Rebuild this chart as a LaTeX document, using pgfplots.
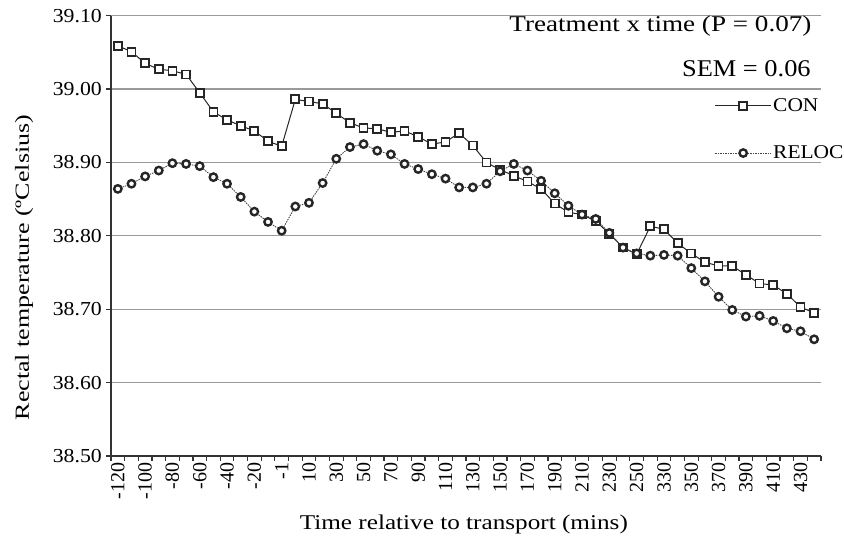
\documentclass[border=0pt]{standalone}
\usepackage{fontspec}
\setmainfont{Liberation Serif}[FakeStretch=1.1]
\newfontfamily\fA{Liberation Serif}[FakeStretch=1.2]
\newfontfamily\fB{Liberation Serif}[FakeStretch=1.3]
\newfontfamily\fN{Liberation Serif}
\usepackage{pgfplots}
\usepackage{pgfplotstable}
\pgfplotsset{compat=1.18}
\definecolor{mk}{HTML}{262626}
\definecolor{gridc}{HTML}{9A9A9A}
\definecolor{axc}{HTML}{333333}

\pgfplotstableread{
i con reloc
0 39.059 38.864
1 39.051 38.871
2 39.035 38.881
3 39.027 38.889
4 39.025 38.899
5 39.020 38.898
6 38.995 38.895
7 38.969 38.880
8 38.958 38.871
9 38.950 38.853
10 38.943 38.833
11 38.929 38.819
12 38.922 38.807
13 38.986 38.840
14 38.983 38.845
15 38.980 38.872
16 38.967 38.905
17 38.954 38.921
18 38.947 38.925
19 38.946 38.916
20 38.941 38.911
21 38.943 38.898
22 38.935 38.891
23 38.925 38.884
24 38.928 38.878
25 38.940 38.866
26 38.923 38.866
27 38.900 38.871
28 38.890 38.888
29 38.882 38.898
30 38.874 38.889
31 38.864 38.875
32 38.844 38.858
33 38.832 38.841
34 38.829 38.829
35 38.820 38.823
36 38.803 38.804
37 38.784 38.784
38 38.775 38.776
39 38.813 38.773
40 38.809 38.774
41 38.790 38.773
42 38.776 38.756
43 38.764 38.738
44 38.759 38.717
45 38.759 38.699
46 38.747 38.690
47 38.735 38.691
48 38.733 38.684
49 38.721 38.674
50 38.703 38.670
51 38.695 38.659
}\datatable

\begin{document}
\begin{tikzpicture}
\begin{axis}[name=ax, at={(0,0)}, anchor=south west,
  width=710pt, height=440.3pt, scale only axis,
  xmin=-0.5, xmax=51.5, ymin=38.5, ymax=39.1,
  clip=false,
  axis x line*=bottom, axis y line*=left,
  axis line style={draw=axc, line width=1.4pt},
  ytick={38.5,38.6,38.7,38.8,38.9,39.0,39.1},
  ymajorgrids, major grid style={draw=gridc, line width=1.2pt},
  tick align=outside, major tick length=5pt, minor tick length=5pt,
  tick style={draw=axc, line width=1.2pt},
  xtick={0,2,...,50},
  xticklabels={-120,-100,-80,-60,-40,-20,-1,10,30,50,70,90,110,130,150,170,190,210,230,250,330,350,370,390,410,430},
  minor xtick={-0.5,0.5,...,51.5},
  major x tick style={draw=none},
  xticklabel style={rotate=90, anchor=east, inner sep=1.5pt, font=\fN\fontsize{20}{20}\selectfont},
  yticklabel style={inner sep=4pt, font=\fontsize{19.8}{20}\selectfont},
  /pgf/number format/assume math mode=true,
  yticklabel={\pgfmathprintnumber[fixed,fixed zerofill,precision=2]{\tick}},
  ylabel={Rectal temperature (ºCelsius)},
  ylabel style={at={(axis description cs:-0.1155,0.428)}, anchor=base, font=\fB\fontsize{20}{24}\selectfont},
  xlabel={Time relative to transport (mins)},
  xlabel style={at={(rel axis cs:0.497,0)}, anchor=base, yshift=-74pt, font=\fA\fontsize{21}{24}\selectfont},
  legend style={at={(rel axis cs:0.850,0.816)}, anchor=north west, draw=none, fill=none,
    font=\fontsize{19.5}{22}\selectfont, row sep=30pt, inner sep=0pt, nodes={inner sep=1.5pt}},
  legend cell align=left,
  legend image code/.code={\draw[mark repeat=2,mark phase=2,#1] plot coordinates {(0pt,0pt) (28pt,0pt) (56pt,0pt)};},
]
\addplot[color=mk, line width=1pt, mark=square*, mark size=4pt,
  mark options={line width=1.8pt, fill=white, draw=mk, solid}]
  table[x=i,y=con]{\datatable};
\addlegendentry{CON}
\addplot[color=mk!85, line width=0.9pt, dash pattern=on 1.5pt off 1pt, mark=*, mark size=3.7pt,
  mark options={line width=2.4pt, fill=white, draw=mk, solid}]
  table[x=i,y=reloc]{\datatable};
\addlegendentry{RELOC}
\node[anchor=base east, font=\fA\fontsize{22.6}{26}\selectfont] at (rel axis cs:0.9915,0.963) {Treatment x time (P = 0.07)};
\node[anchor=base east, font=\fontsize{24}{26}\selectfont] at (rel axis cs:0.9905,0.863) {SEM = 0.06};
\end{axis}
\pgfresetboundingbox
\useasboundingbox ([shift={(-111pt,-87pt)}]ax.south west) rectangle ([shift={(733pt,456pt)}]ax.south west);
\end{tikzpicture}
\end{document}
